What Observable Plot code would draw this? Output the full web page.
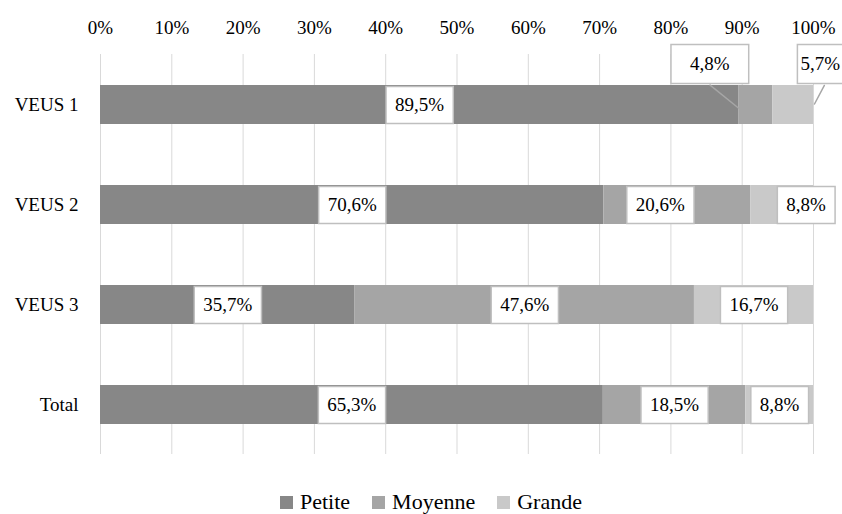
<!DOCTYPE html>
<html><head><meta charset="utf-8">
<script src="https://cdn.jsdelivr.net/npm/d3@7"></script>
<script src="https://cdn.jsdelivr.net/npm/@observablehq/plot@0.6"></script>
<style>
body{margin:0;background:#fff;font-family:"Liberation Serif","Tinos","DejaVu Serif",serif;}
#chart{position:relative;width:842px;height:514px;overflow:hidden;}
#legend{position:absolute;left:280px;top:490px;display:flex;align-items:baseline;font-size:22px;line-height:24px;color:#000;white-space:nowrap;}
.item{display:inline-flex;align-items:baseline;margin-right:22px;}
.sw{display:inline-block;width:13px;height:13px;margin-right:7px;}
</style></head>
<body><div id="chart"><div id="legend"></div></div>
<script>
// ---- data ----
const categories = ["VEUS 1", "VEUS 2", "VEUS 3", "Total"];
const sizes = ["Petite", "Moyenne", "Grande"];
const petite  = [89.5, 70.6, 35.7, 65.3];
const moyenne = [4.8, 20.6, 47.6, 18.5];
const grande  = [5.7, 8.8, 16.7, 8.8];
const tickPercents = [0, 10, 20, 30, 40, 50, 60, 70, 80, 90, 100];
const colors = ["#878787", "#a5a5a5", "#c9c9c9"];

const series = [petite, moyenne, grande];
const data = categories.flatMap((c, i) => sizes.map((s, j) => ({cat: c, size: s, value: series[j][i]})));
const fmt = v => v.toFixed(1).replace(".", ",") + "%";
const stackOpts = {x: "value", y: "cat", z: "size", offset: "normalize"};
const FONT = "'Liberation Serif', 'Tinos', 'DejaVu Serif', serif";

const isV1 = d => d.cat === "VEUS 1";
const isV2 = d => d.cat === "VEUS 2";

const label = (test, dx, dy, desc) =>
  Plot.text(data, Plot.filter(test, Plot.stackX({
    ...stackOpts, text: d => fmt(d.value), dx, dy,
    fill: "#000", fontSize: 19, fontFamily: FONT, ariaDescription: desc
  })));

const svg = Plot.plot({
  width: 842,
  height: 470,
  marginLeft: 100,
  marginRight: 29,
  marginTop: 54,
  marginBottom: 16,
  style: {fontFamily: FONT, fontSize: "19px", color: "#000", background: "#fff"},
  x: {domain: [0, 1], axis: "top", ticks: tickPercents.map(t => t / 100), tickFormat: d => Math.round(d * 100) + "%", tickSize: 0, tickPadding: 21, label: null},
  y: {domain: categories, tickSize: 0, tickPadding: 22, label: null, paddingInner: 0.61, paddingOuter: 0.305},
  color: {domain: sizes, range: colors},
  marks: [
    Plot.ruleX(tickPercents.map(t => t / 100), {stroke: "#d9d9d9", strokeWidth: 1}),
    Plot.barX(data, Plot.stackX({...stackOpts, fill: "size"})),
    // leader lines for the VEUS 1 callouts
    Plot.vector(data, Plot.filter(d => isV1(d) && d.size === "Moyenne", Plot.stackX1({
      ...stackOpts, length: 38, rotate: -51, anchor: "start", dx: 1, dy: 4, r: 0,
      stroke: "#a6a6a6", strokeWidth: 1.5
    }))),
    Plot.vector(data, Plot.filter(d => isV1(d) && d.size === "Grande", Plot.stackX2({
      ...stackOpts, length: 21, rotate: 28, anchor: "start", dx: 1, dy: -1, r: 0,
      stroke: "#a6a6a6", strokeWidth: 1.5
    }))),
    label(d => !(isV1(d) && d.size !== "Petite") && !(isV2(d) && d.size !== "Petite"), 0, 0, "lbl"),
    label(d => isV2(d) && d.size === "Moyenne", -17, 0, "lbl"),
    label(d => isV2(d) && d.size === "Grande", 24, 0, "lbl"),
    label(d => isV1(d) && d.size === "Moyenne", -46, -41, "lbl-wide"),
    label(d => isV1(d) && d.size === "Grande", 27, -41, "lbl-tight")
  ]
});

const chart = document.getElementById("chart");
chart.insertBefore(svg, chart.firstChild);

// white boxes behind the data labels
svg.querySelectorAll('g[aria-description^="lbl"]').forEach(g => {
  const kind = g.getAttribute("aria-description");
  const px = kind === "lbl-wide" ? 19 : kind === "lbl-tight" ? 3 : 9;
  const h = kind === "lbl" ? 37 : 39;
  g.querySelectorAll("text").forEach(t => {
    const b = t.getBBox();
    const r = document.createElementNS("http://www.w3.org/2000/svg", "rect");
    r.setAttribute("x", b.x - px);
    r.setAttribute("y", -h / 2);
    r.setAttribute("width", b.width + 2 * px);
    r.setAttribute("height", h);
    r.setAttribute("transform", t.getAttribute("transform"));
    r.setAttribute("fill", "#fff");
    r.setAttribute("stroke", "#bfbfbf");
    r.setAttribute("stroke-width", "1.5");
    t.parentNode.insertBefore(r, t);
  });
});

// legend
const legend = document.getElementById("legend");
sizes.forEach((s, i) => {
  const item = document.createElement("span");
  item.className = "item";
  const sw = document.createElement("span");
  sw.className = "sw";
  sw.style.background = colors[i];
  item.appendChild(sw);
  item.appendChild(document.createTextNode(s));
  legend.appendChild(item);
});
</script>
</body></html>
